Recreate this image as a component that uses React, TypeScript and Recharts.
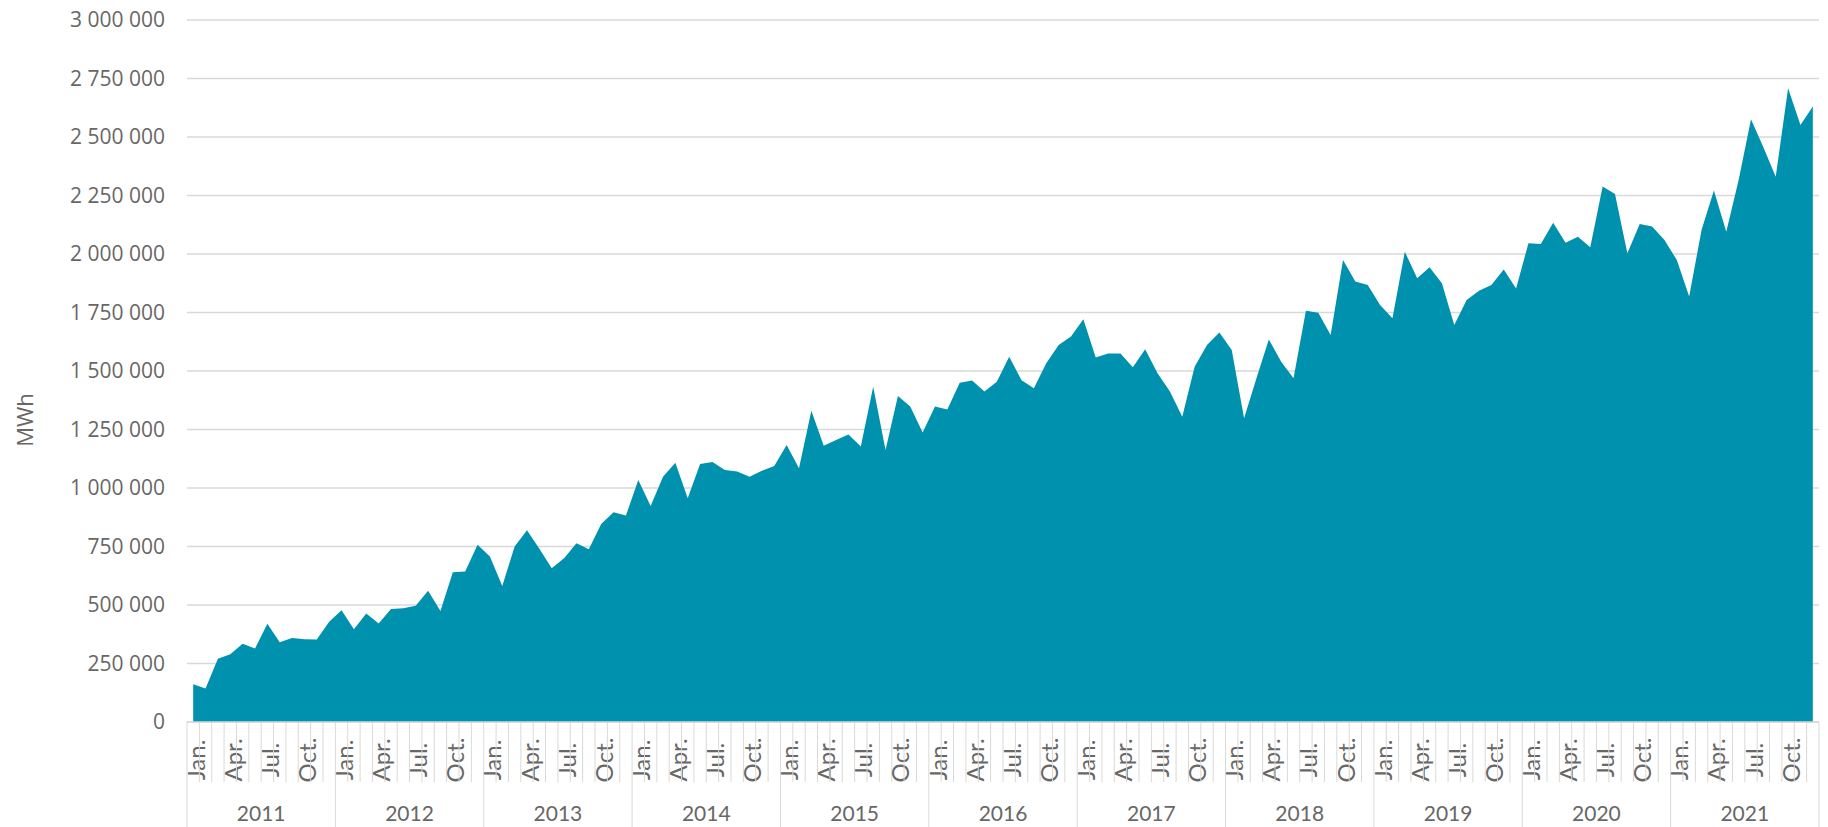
import React from 'react';
import { AreaChart, Area, XAxis, YAxis, CartesianGrid } from 'recharts';

// monthly values, thousands of MWh
const years = [2011, 2012, 2013, 2014, 2015, 2016, 2017, 2018, 2019, 2020, 2021];
const monthLabels = ['Jan.', '', '', 'Apr.', '', '', 'Jul.', '', '', 'Oct.', '', ''];

const v2011 = [161, 143, 270, 289, 334, 314, 420, 341, 359, 354, 353, 428];
const v2012 = [478, 396, 464, 421, 483, 486, 497, 561, 474, 640, 643, 757];
const v2013 = [707, 581, 750, 819, 740, 657, 700, 764, 738, 846, 896, 882];
const v2014 = [1034, 923, 1048, 1108, 956, 1103, 1111, 1077, 1070, 1048, 1074, 1094];
const v2015 = [1184, 1084, 1330, 1181, 1205, 1229, 1177, 1433, 1162, 1393, 1348, 1237];
const v2016 = [1348, 1336, 1450, 1459, 1412, 1454, 1561, 1461, 1426, 1533, 1611, 1647];
const v2017 = [1721, 1558, 1575, 1575, 1516, 1593, 1490, 1412, 1305, 1518, 1611, 1664];
const v2018 = [1590, 1298, 1469, 1635, 1540, 1469, 1758, 1749, 1654, 1974, 1882, 1867];
const v2019 = [1782, 1725, 2010, 1896, 1943, 1875, 1697, 1803, 1843, 1867, 1934, 1853];
const v2020 = [2046, 2043, 2134, 2048, 2074, 2029, 2288, 2256, 2003, 2128, 2117, 2060];
const v2021 = [1974, 1818, 2103, 2271, 2095, 2316, 2576, 2456, 2330, 2708, 2551, 2630];

const yearValues = [v2011, v2012, v2013, v2014, v2015, v2016, v2017, v2018, v2019, v2020, v2021];
const yTicks = [0, 250000, 500000, 750000, 1000000, 1250000, 1500000, 1750000, 2000000, 2250000, 2500000, 2750000, 3000000];

const data = years.flatMap((year, yi) =>
  yearValues[yi].map((v, m) => ({ key: `${year}-${m}`, year, month: m, value: v * 1000 }))
);
const byKey: Record<string, (typeof data)[number]> = {};
data.forEach((d) => (byKey[d.key] = d));

const W = 1828;
const H = 827;
const Y_AXIS_W = 187;
const X_AXIS_H = 105;
const MARGIN = { top: 20, right: 9, left: 0, bottom: 0 };
const PLOT_W = W - Y_AXIS_W - MARGIN.right;
const STEP = PLOT_W / data.length;

const GRID = '#d9d9d9';
const TEXT = '#676767';

const fmt = (v: number) => String(v).replace(/\B(?=(\d{3})+(?!\d))/g, ' ');

const MonthTick = (props: any) => {
  const { x, y, payload, index } = props;
  const d = byKey[payload.value];
  if (!d) return null;
  const half = STEP / 2;
  const label = monthLabels[d.month];
  return (
    <g>
      <line x1={x - half} x2={x - half} y1={y} y2={d.month === 0 ? H : y + 60} stroke={GRID} />
      {index === data.length - 1 && <line x1={x + half} x2={x + half} y1={y} y2={H} stroke={GRID} />}
      {label && (
        <text
          transform={`translate(${x + 2},${y + 38}) rotate(-90)`}
          textAnchor="middle"
          dominantBaseline="central"
          fontFamily="Lato"
          fontSize={24}
          fill={TEXT}
        >
          {label}
        </text>
      )}
      {d.month === 5 && (
        <text x={x + half} y={y + 99} textAnchor="middle" fontFamily="Lato" fontSize={21} fill={TEXT}>
          {d.year}
        </text>
      )}
    </g>
  );
};

const UnitLabel = () => (
  <text
    transform="translate(24,420) rotate(-90)"
    textAnchor="middle"
    dominantBaseline="central"
    fontFamily="Open Sans"
    fontSize={22}
    fill={TEXT}
  >
    MWh
  </text>
);

export default function App() {
  return (
    <div style={{ position: 'absolute', left: 0, top: 0, width: W, height: H, background: '#fff' }}>
      <AreaChart width={W} height={H} data={data} margin={MARGIN}>
        <CartesianGrid horizontal vertical={false} stroke={GRID} strokeWidth={1.5} />
        <XAxis
          dataKey="key"
          height={X_AXIS_H}
          interval={0}
          tickSize={0}
          tickMargin={0}
          tickLine={false}
          axisLine={{ stroke: GRID, strokeWidth: 1.5 }}
          padding={{ left: STEP / 2, right: STEP / 2 }}
          tick={<MonthTick />}
        />
        <YAxis
          width={Y_AXIS_W}
          domain={[0, 3000000]}
          ticks={yTicks}
          interval={0}
          axisLine={false}
          tickLine={false}
          tickMargin={16}
          tickFormatter={fmt}
          tick={{ fontFamily: 'Open Sans', fontSize: 21, fill: TEXT }}
          label={{ content: <UnitLabel /> }}
        />
        <Area
          type="linear"
          dataKey="value"
          stroke="none"
          fill="#0091ae"
          fillOpacity={1}
          isAnimationActive={false}
        />
      </AreaChart>
    </div>
  );
}
